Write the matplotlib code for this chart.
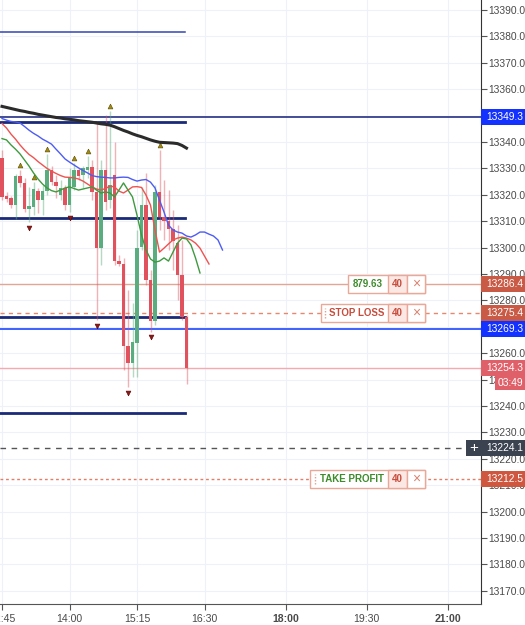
import matplotlib
matplotlib.use('Agg')
import matplotlib.pyplot as plt
import matplotlib.transforms as mtransforms
from matplotlib.patches import Rectangle
import numpy as np

plt.rcParams['font.family'] = ['Liberation Sans', 'DejaVu Sans']

# 5-minute candles starting 12:45
opens = [13333.9, 13319.5, 13318.8, 13316.1, 13327.1, 13324.5, 13314.6, 13315.4, 13321.4, 13318.0,
         13321.4, 13329.4, 13324.8, 13319.9, 13322.6, 13316.1, 13323.0, 13329.4, 13327.5, 13329.4,
         13330.5, 13321.1, 13299.8, 13329.4, 13318.0, 13327.5, 13294.9, 13293.8, 13262.7, 13256.3,
         13263.9, 13300.2, 13316.1, 13287.7, 13272.2, 13321.1, 13311.6, 13310.1, 13307.1, 13301.7,
         13289.6, 13273.7]
highs = [13337.0, 13321.1, 13319.5, 13327.8, 13329.4, 13326.4, 13323.0, 13324.8, 13322.6, 13323.7,
         13335.5, 13330.9, 13327.5, 13325.6, 13323.7, 13330.2, 13332.0, 13330.2, 13331.0, 13334.7,
         13333.2, 13348.0, 13333.2, 13350.2, 13351.7, 13340.0, 13297.2, 13296.1, 13283.9, 13279.0,
         13306.7, 13323.0, 13328.3, 13291.5, 13323.7, 13337.0, 13325.6, 13321.8, 13314.2, 13308.6,
         13302.9, 13274.5]
lows = [13318.0, 13317.3, 13315.0, 13311.0, 13323.0, 13313.5, 13309.7, 13312.3, 13313.0, 13312.3,
        13320.0, 13323.7, 13318.8, 13318.0, 13314.2, 13313.5, 13321.8, 13325.6, 13322.6, 13326.4,
        13318.0, 13272.6, 13293.4, 13314.2, 13315.0, 13293.4, 13293.0, 13253.6, 13247.2, 13251.0,
        13251.0, 13299.1, 13285.8, 13268.2, 13270.7, 13306.7, 13302.9, 13299.1, 13291.5, 13280.2,
        13272.6, 13248.3]
closes = [13319.2, 13318.4, 13316.1, 13327.1, 13324.5, 13314.6, 13315.8, 13322.2, 13318.0, 13321.4,
          13329.4, 13324.8, 13323.3, 13322.6, 13316.1, 13326.4, 13329.4, 13327.1, 13330.2, 13330.5,
          13321.1, 13299.8, 13329.4, 13317.3, 13323.7, 13294.9, 13293.8, 13262.7, 13256.3, 13264.2,
          13299.8, 13316.1, 13287.7, 13272.2, 13321.1, 13311.6, 13310.1, 13307.1, 13302.5, 13289.6,
          13273.7, 13254.3]

# moving averages, one value per 5-minute step
ma_black = [13353.5, 13353.1, 13352.7, 13352.3, 13351.9, 13351.6, 13351.2, 13350.9, 13350.5, 13350.2,
            13349.9, 13349.6, 13349.3, 13349.1, 13348.8, 13348.6, 13348.4, 13348.1, 13347.9, 13347.7,
            13347.5, 13347.2, 13346.9, 13346.7, 13346.4, 13345.8, 13345.1, 13344.4, 13343.8, 13343.1,
            13342.5, 13342.0, 13341.4, 13340.8, 13340.3, 13339.9, 13339.8, 13339.7, 13339.6, 13339.4,
            13338.7, 13337.7]
ma_blue = [13348.9, 13348.3, 13347.8, 13347.6, 13347.2, 13345.9, 13344.5, 13343.3, 13342.3, 13341.1,
           13340.2, 13339.2, 13337.3, 13335.5, 13333.6, 13332.4, 13331.3, 13330.2, 13329.2, 13328.3,
           13327.3, 13326.9, 13326.7, 13326.6, 13326.4, 13326.4, 13326.6, 13326.7, 13326.6, 13325.8,
           13325.2, 13325.6, 13325.8, 13324.8, 13322.6, 13318.0, 13313.5, 13308.5, 13306.7, 13305.9,
           13305.5, 13304.4, 13304.0, 13304.8, 13305.9, 13305.9, 13305.1, 13304.4, 13302.9, 13299.1]
ma_red = [13347.0, 13345.3, 13343.0, 13341.1, 13338.9, 13337.0, 13335.3, 13334.1, 13332.6, 13331.3,
          13330.0, 13329.0, 13328.1, 13327.3, 13326.7, 13326.6, 13326.4, 13326.0, 13325.2, 13324.1,
          13323.0, 13322.2, 13321.8, 13322.4, 13323.3, 13323.0, 13321.4, 13320.7, 13321.8, 13323.0,
          13323.1, 13322.8, 13319.9, 13316.1, 13306.7, 13298.3, 13299.8, 13301.4, 13302.9, 13303.6,
          13304.0, 13303.6, 13302.9, 13301.7, 13299.8, 13296.8, 13293.8]
ma_green = [13341.3, 13340.8, 13338.9, 13337.3, 13335.5, 13333.2, 13330.9, 13328.3, 13326.0, 13324.1,
            13322.6, 13321.6, 13321.1, 13321.8, 13322.6, 13323.0, 13322.4, 13321.8, 13322.2, 13322.6,
            13323.0, 13321.8, 13320.7, 13321.1, 13320.7, 13319.2, 13321.8, 13324.5, 13321.8, 13319.2,
            13312.3, 13304.8, 13299.1, 13295.7, 13294.5, 13294.9, 13296.1, 13294.9, 13298.3, 13301.7,
            13303.6, 13303.3, 13301.0, 13296.1, 13290.4]

up_marks = [4, 7, 10, 16, 19, 24, 35]
down_marks = [6, 15, 21, 28, 33]

level_segments = [13347.7, 13311.1, 13273.9, 13237.2]
level_top = 13381.7
line_level = 13349.3
target_level = 13286.4
stop_level = 13275.4
entry_level = 13269.3
last_price = 13254.3
cross_level = 13224.1
profit_level = 13212.5

tick_minutes = [0, 75, 150, 225, 315, 405, 495]
tick_labels = ['12:45', '14:00', '15:15', '16:30', '18:00', '19:30', '21:00']
bold_labels = ['18:00', '21:00']

W, H = 525, 625
fig = plt.figure(figsize=(W / 100, H / 100), dpi=100)
ax = fig.add_axes([0, 21 / H, 481 / W, 604 / H])

# x axis in minutes from 12:45, 0.9 px per minute
def px2min(px):
    return (px - 2) / 0.9

ax.set_xlim(px2min(0), px2min(481))
ax.set_ylim(13165.0, 13393.8)

ax.set_yticks(np.arange(13170, 13391, 10))
ax.set_yticklabels(['%.1f' % v for v in np.arange(13170, 13391, 10)])
ax.set_xticks(tick_minutes)
ax.set_xticklabels(tick_labels)
for lab in ax.get_xticklabels():
    if lab.get_text() in bold_labels:
        lab.set_fontweight('bold')
ax.yaxis.tick_right()
ax.tick_params(axis='y', length=4, width=0.8, color='#555555', labelsize=7.4,
               labelcolor='#4a4a4a', pad=1.2)
ax.tick_params(axis='x', length=4, width=0.8, color='#555555', labelsize=7.6,
               labelcolor='#4a4a4a', pad=3)
for s in ['top', 'left']:
    ax.spines[s].set_visible(False)
ax.spines['right'].set_color('#333333')
ax.spines['bottom'].set_color('#555555')
ax.grid(True, color='#eef1f7', lw=0.8, zorder=0)
ax.set_axisbelow(True)

# horizontal levels
seg_end = px2min(185)
ax.plot([px2min(0), seg_end], [level_top] * 2, color='#3346b3', lw=1.1, zorder=2)
for lv in level_segments:
    ax.plot([px2min(0), seg_end], [lv] * 2, color='#1a2a78', lw=2, zorder=2)
ax.axhline(line_level, color='#14207a', lw=1.1, zorder=2)
ax.axhline(target_level, color='#e3a595', lw=1, zorder=2)
ax.axhline(stop_level, color='#e8876d', lw=1, ls=(0, (3, 3)), zorder=2)
ax.axhline(entry_level, color='#2e55ff', lw=1.3, zorder=2)
ax.axhline(last_price, color='#f3aab0', lw=1, zorder=2)
ax.axhline(cross_level, color='#555555', lw=1, ls=(0, (4, 4)), zorder=2)
ax.axhline(profit_level, color='#e07f66', lw=1, ls=(0, (2, 2)), zorder=2)

# candles
t = np.arange(len(opens)) * 5
o, h, l, c = map(np.array, (opens, highs, lows, closes))
up = c >= o
col = np.where(up, '#5aad7e', '#e0525e')
ax.vlines(t, l, h, colors=col, lw=1, alpha=0.45, zorder=3)
body = np.where(np.abs(c - o) < 0.5, 0.5, c - o)
ax.bar(t, body, bottom=o, width=4.2, color=col, zorder=4, linewidth=0)

ax.plot(t[up_marks], h[up_marks] + 2.0, '^', ms=3.5, color='#a08c10', mec='#5a4a00', mew=0.4, zorder=5)
ax.plot(t[down_marks], l[down_marks] - 2.2, 'v', ms=3.5, color='#8b1a1a', mec='#5a0000', mew=0.4, zorder=5)

# moving averages
ax.plot(np.arange(len(ma_black)) * 5, ma_black, color='#2b2b2b', lw=2.2, zorder=5)
ax.plot(np.arange(len(ma_blue)) * 5, ma_blue, color='#4d5cf5', lw=1, zorder=5)
ax.plot(np.arange(len(ma_red)) * 5, ma_red, color='#ef5350', lw=1, zorder=5)
ax.plot(np.arange(len(ma_green)) * 5, ma_green, color='#3f9a3f', lw=1, zorder=5)

# right-side price labels (x in figure pixels, y in data)
px_x = mtransforms.Affine2D().scale(1 / W, 1) + fig.transFigure
trans = mtransforms.blended_transform_factory(px_x, ax.transData)
unit = 1 / 2.64  # price per pixel

def price_box(price, text, color, x0=481, x1=526, hpx=16, tx=486):
    ax.add_patch(Rectangle((x0, price - hpx / 2 * unit), x1 - x0, hpx * unit, transform=trans,
                           facecolor=color, edgecolor='none', clip_on=False, zorder=10))
    ax.text(tx, price, text, transform=trans, color='white', fontsize=7.4,
            va='center', ha='left', clip_on=False, zorder=11)

price_box(line_level, '%.1f' % line_level, '#1432ff')
price_box(target_level, '%.1f' % target_level, '#c95a45')
price_box(stop_level, '%.1f' % stop_level, '#c95a45')
price_box(entry_level, '%.1f' % entry_level, '#1432ff')
price_box(last_price, '%.1f' % last_price, '#e0606a')
price_box(last_price - 14.5 * unit, '03:49', '#e0606a', x0=495, hpx=14, tx=498)
price_box(cross_level, '%.1f' % cross_level, '#3c4350')
price_box(profit_level, '%.1f' % profit_level, '#d0573f')
ax.add_patch(Rectangle((466, cross_level - 8 * unit), 14.5, 16 * unit, transform=trans,
                       facecolor='#3c4350', edgecolor='none', clip_on=False, zorder=10))
ax.text(473.2, cross_level, '+', transform=trans, color='white', fontsize=11,
        ha='center', va='center', zorder=11)

# order tags
def order_tag(price, x0, text, tx, text_color, grip):
    hh = 18 * unit
    edge = '#e9a898'
    ax.add_patch(Rectangle((x0, price - hh / 2), 425 - x0, hh, transform=trans,
                           facecolor='white', edgecolor=edge, lw=1, zorder=10))
    ax.add_patch(Rectangle((387.7, price - hh / 2), 19.6, hh, transform=trans,
                           facecolor='#fbe8e4', edgecolor=edge, lw=1, zorder=11))
    ax.add_patch(Rectangle((407.3, price - hh / 2), 17.7, hh, transform=trans,
                           facecolor='white', edgecolor=edge, lw=1, zorder=11))
    ax.text(tx, price, text, transform=trans, color=text_color, fontsize=7,
            fontweight='bold', ha='center', va='center', zorder=12)
    ax.text(397.5, price, '40', transform=trans, color='#c84c3c', fontsize=7,
            fontweight='bold', ha='center', va='center', zorder=12)
    ax.text(416.2, price, '×', transform=trans, color='#d9826f', fontsize=10,
            ha='center', va='center', zorder=12)
    if grip:
        ax.plot([x0 + 4.5] * 2, [price - 5 * unit, price + 5 * unit], transform=trans,
                color='#e0a090', lw=1, ls=(0, (1, 1.2)), zorder=12)

order_tag(target_level, 347.7, '879.63', 367.5, '#3d8b2a', False)
order_tag(stop_level, 320.7, 'STOP LOSS', 357.0, '#c84c3c', True)
order_tag(profit_level, 310.0, 'TAKE PROFIT', 351.5, '#3d8b2a', True)

fig.savefig('out.png', dpi=100)
